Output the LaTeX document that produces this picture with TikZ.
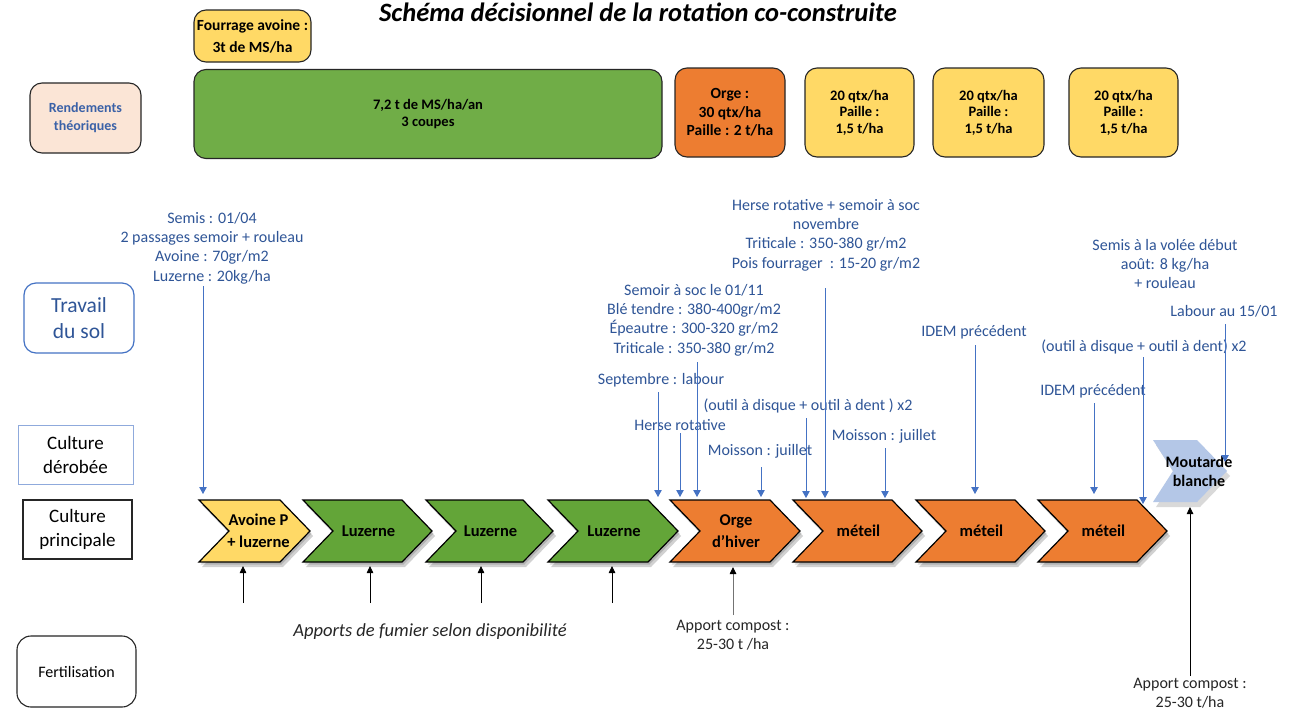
\documentclass[tikz,border=0pt]{standalone}
\usepackage{fontspec}
\setmainfont{Carlito}
\usetikzlibrary{arrows.meta}
\definecolor{txtblue}{RGB}{47,85,151}
\definecolor{arrblue}{RGB}{68,114,196}
\definecolor{cyellow}{RGB}{255,217,102}
\definecolor{cgreen}{RGB}{112,173,71}
\definecolor{cgreenc}{RGB}{99,165,56}
\definecolor{corange}{RGB}{237,125,49}
\definecolor{cpeach}{RGB}{251,229,214}
\definecolor{cmout}{RGB}{180,199,231}
\definecolor{lightframe}{RGB}{143,170,220}
\newcommand{\mychev}[6]{%
  \fill[black,opacity=0.18,shift={(3,5)}] (#2,500) -- ({#3-30},500) -- (#3,531) -- ({#3-30},562) -- (#2,562) -- ({#2+30},531) -- cycle;
  \fill[black,opacity=0.15,shift={(1.5,2.5)}] (#2,500) -- ({#3-30},500) -- (#3,531) -- ({#3-30},562) -- (#2,562) -- ({#2+30},531) -- cycle;
  \filldraw[fill=#4,draw=black,line width=1.2pt,line join=miter] (#2,500) -- ({#3-30},500) -- (#3,531) -- ({#3-30},562) -- (#2,562) -- ({#2+30},531) -- cycle;
  \node[chevtxt] (#1) at ({(#2+#3)/2+#6},531) {#5};}
\begin{document}
\begin{tikzpicture}[x=1pt,y=-1pt,
  lbl/.style={font=\fontsize{16}{19.4}\selectfont, text=txtblue, align=center, inner sep=0pt},
  blk/.style={font=\fontsize{16}{19}\selectfont, text=black!85, align=center, inner sep=0pt},
  chevtxt/.style={font=\fontsize{16.5}{22}\selectfont\bfseries, text=black, align=center, inner sep=0pt},
  topbox/.style={draw=black!85, line width=1.1pt, rounded corners=12pt, align=center, inner sep=0pt, font=\bfseries},
  barr/.style={draw=arrblue, line width=0.9pt, -{Triangle[length=7pt,width=7.5pt]}},
  karr/.style={draw=black, line width=0.8pt, -{Triangle[length=7pt,width=6.5pt]}},
  garr/.style={draw=black!55, line width=0.9pt, -{Triangle[length=7pt,width=6.5pt,fill=black,color=black]}}
]
\useasboundingbox (0,0) rectangle (1292,723);
\fill[white] (0,0) rectangle (1292,723);

% title
\node[font=\fontsize{26.5}{28}\selectfont\bfseries\itshape, inner sep=0pt] (title) at (638,12) {Schéma décisionnel de la rotation co-construite};

% top boxes
\node[topbox, fill=cyellow, minimum width=117pt, minimum height=52pt, font=\fontsize{15.5}{22}\selectfont\bfseries] (fourr) at (252.5,36) {Fourrage avoine :\\3t de MS/ha};
\node[topbox, fill=cgreen, minimum width=468pt, minimum height=89pt, font=\fontsize{14.5}{17}\selectfont\bfseries] (luzr) at (428,114) {7,2 t de MS/ha/an\\3 coupes};
\node[topbox, fill=corange, minimum width=110pt, minimum height=89pt, font=\fontsize{15.5}{18.5}\selectfont\bfseries] (orger) at (730,112.5) {Orge :\\30 qtx/ha\\Paille : 2 t/ha};
\node[topbox, fill=cyellow, minimum width=109pt, minimum height=89pt, font=\fontsize{14.5}{16.5}\selectfont\bfseries] (m1r) at (859.5,112.5) {20 qtx/ha\\Paille :\\1,5 t/ha};
\node[topbox, fill=cyellow, minimum width=111pt, minimum height=89pt, font=\fontsize{14.5}{16.5}\selectfont\bfseries] (m2r) at (988.5,112.5) {20 qtx/ha\\Paille :\\1,5 t/ha};
\node[topbox, fill=cyellow, minimum width=109pt, minimum height=89pt, font=\fontsize{14.5}{16.5}\selectfont\bfseries] (m3r) at (1123.5,112.5) {20 qtx/ha\\Paille :\\1,5 t/ha};

% left column
\node[topbox, fill=cpeach, minimum width=111pt, minimum height=70pt, text=arrblue!85!black, font=\fontsize{14}{18}\selectfont\bfseries] (rend) at (85.5,118) {Rendements\\théoriques};
\node[draw=arrblue, line width=1.2pt, rounded corners=12pt, minimum width=110pt, minimum height=70pt, align=center, inner sep=0pt, text=txtblue, font=\fontsize{21.5}{26}\selectfont] (trav) at (79,318) {Travail\\du sol};
\node[draw=lightframe, line width=1pt, minimum width=115pt, minimum height=59pt, align=center, inner sep=0pt, font=\fontsize{19}{24}\selectfont] (der) at (75.5,454.5) {Culture\\dérobée};
\node[draw=black!85, line width=1.1pt, minimum width=109pt, minimum height=59pt, align=center, inner sep=0pt, font=\fontsize{19}{24}\selectfont] (princ) at (77.5,529.5) {Culture\\principale};
\node[draw=black!85, line width=1.1pt, rounded corners=14pt, minimum width=119pt, minimum height=71pt, align=center, inner sep=0pt, font=\fontsize{16}{18}\selectfont] (fert) at (76.5,671.5) {Fertilisation};

% chevrons
\fill[black,opacity=0.15,shift={(3,5)}] (1153,440) -- (1197,440) -- (1227,471) -- (1197,502) -- (1153,502) -- (1173,471) -- cycle;
\fill[cmout] (1153,440) -- (1197,440) -- (1227,471) -- (1197,502) -- (1153,502) -- (1173,471) -- cycle;
\mychev{avoine}{199}{310}{cyellow}{Avoine P\\+ luzerne}{4}
\mychev{luz1}{303}{432}{cgreenc}{Luzerne}{1}
\mychev{luz2}{426}{553}{cgreenc}{Luzerne}{1}
\mychev{luz3}{548}{678}{cgreenc}{Luzerne}{1}
\mychev{orge}{670}{800}{corange}{Orge\\d’hiver}{1}
\mychev{met1}{793}{922}{corange}{méteil}{1}
\mychev{met2}{916}{1045}{corange}{méteil}{1}
\mychev{met3}{1038}{1167}{corange}{méteil}{1}
\node[chevtxt, font=\fontsize{16}{19}\selectfont\bfseries] (mout) at (1199,471) {Moutarde\\blanche};

% blue labels
\node[lbl] (l1) at (212,248) {Semis : 01/04\\2 passages semoir + rouleau\\Avoine : 70gr/m2\\Luzerne : 20kg/ha};
\node[lbl] (l2) at (694,320) {Semoir à soc le 01/11\\Blé tendre : 380-400gr/m2\\Épeautre : 300-320 gr/m2\\Triticale : 350-380 gr/m2};
\node[lbl] (l3) at (661,380) {Septembre : labour};
\node[lbl] (l4) at (680,425) {Herse rotative};
\node[lbl] (l5) at (760,451) {Moisson : juillet};
\node[lbl] (l6) at (808,406) {(outil à disque + outil à dent ) x2};
\node[lbl] (l7) at (826,235) {Herse rotative + semoir à soc\\novembre\\Triticale : 350-380 gr/m2\\Pois fourrager~~: 15-20 gr/m2};
\node[lbl] (l8) at (884,436) {Moisson : juillet};
\node[lbl] (l9) at (974,332) {IDEM précédent};
\node[lbl] (l10) at (1093,391) {IDEM précédent};
\node[lbl] (l11) at (1144,347) {(outil à disque + outil à dent) x2};
\node[lbl] (l12) at (1165,264) {Semis à la volée début\\août: 8 kg/ha\\+ rouleau};
\node[lbl] (l13) at (1224,311) {Labour au 15/01};

% black labels
\node[blk, font=\fontsize{18.5}{20}\selectfont\itshape] (fum) at (430,632) {Apports de fumier selon disponibilité};
\node[blk] (comp1) at (733,635) {Apport compost :\\25-30 t /ha};
\node[blk] (comp2) at (1190,693) {Apport compost :\\25-30 t/ha};

% blue arrow coordinates
\coordinate (s1) at (203,286); \coordinate (e1) at (203,494);
\coordinate (s2) at (658,392); \coordinate (e2) at (658,497);
\coordinate (s3) at (680,433); \coordinate (e3) at (680,497);
\coordinate (s4) at (697,362); \coordinate (e4) at (697,497);
\coordinate (s5) at (761,467); \coordinate (e5) at (761,497);
\coordinate (s6) at (806,418); \coordinate (e6) at (806,498);
\coordinate (s7) at (825,288); \coordinate (e7) at (825,498);
\coordinate (s8) at (885,448); \coordinate (e8) at (885,498);
\coordinate (s9) at (975,345); \coordinate (e9) at (975,494);
\coordinate (s10) at (1094,403); \coordinate (e10) at (1094,494);
\coordinate (s11) at (1143,357); \coordinate (e11) at (1143,504);
\coordinate (s12) at (1225,324); \coordinate (e12) at (1225,462);
\foreach \i in {1,...,12} {\draw[barr] (s\i) -- (e\i);}

% black arrows
\coordinate (f1) at (243,603); \coordinate (g1) at (243,566);
\coordinate (f2) at (370,603); \coordinate (g2) at (370,566);
\coordinate (f3) at (481,603); \coordinate (g3) at (481,566);
\coordinate (f4) at (612,603); \coordinate (g4) at (612,566);
\foreach \i in {1,...,4} {\draw[karr] (f\i) -- (g\i);}
\coordinate (f5) at (733,615); \coordinate (g5) at (733,567);
\draw[garr] (f5) -- (g5);
\coordinate (f6) at (1190,676); \coordinate (g6) at (1190,507);
\draw[karr] (f6) -- (g6);
\end{tikzpicture}
\end{document}
